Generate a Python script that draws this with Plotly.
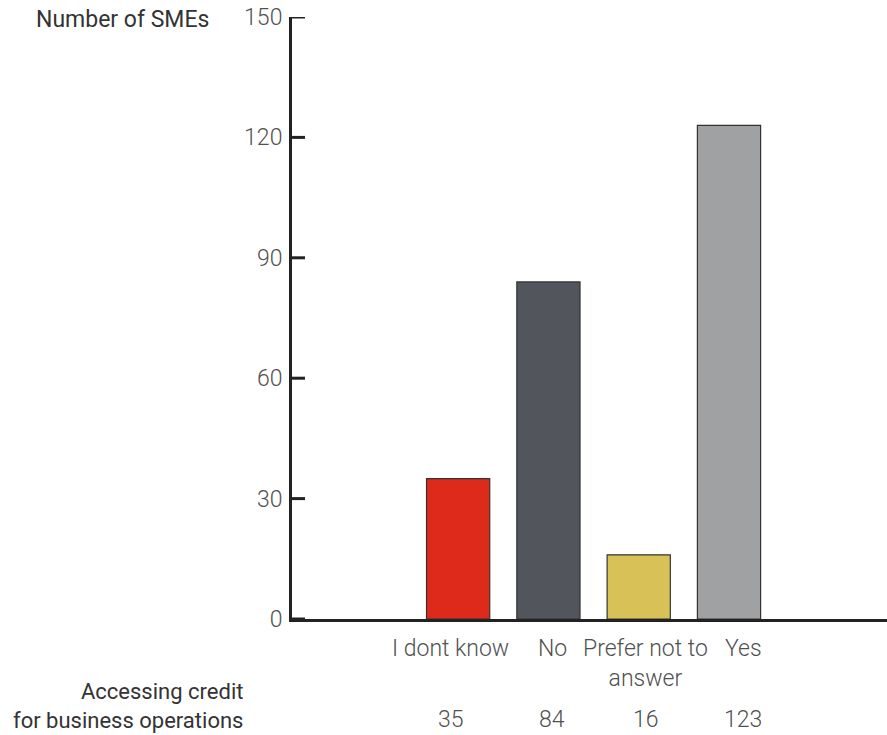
import plotly.graph_objects as go

# Survey responses: accessing credit for business operations
categories = ["I dont know", "No", "Prefer not to answer", "Yes"]
counts = [35, 84, 16, 123]
bar_colors = ["#DD2A1B", "#52555C", "#D8C257", "#A0A1A3"]
y_ticks = [0, 30, 60, 90, 120, 150]
row_title = "Accessing credit<br>for business operations"
axis_title = "Number of SMEs"

# column centres of the label/value table beneath the bars (category units)
label_cols = [-0.08, 1.04, 2.08, 3.16]

W, H = 887, 735
L, R, T, B = 292, 0, 17, 116
plot_w = W - L - R
plot_h = H - T - B
TICK_LEN = 13

LIGHT = dict(family="Roboto", size=23, color="#505050", weight=300)
REG = dict(family="Roboto", size=22, color="#333333", weight=400)


def py(pixel_y):
    """pixel row -> paper y"""
    return (H - B - pixel_y) / plot_h


fig = go.Figure(
    go.Bar(
        x=categories,
        y=counts,
        marker=dict(color=bar_colors, line=dict(color="#333333", width=1.2)),
        width=0.7,
        hoverinfo="x+y",
    )
)

annotations = []
for cat, val, cx in zip(categories, counts, label_cols):
    annotations.append(dict(
        x=cx, y=py(647), xref="x", yref="paper",
        text=cat.replace("not to ", "not to<br>"), showarrow=False,
        xanchor="center", yanchor="top", yshift=14,
        font=LIGHT, align="center",
    ))
    annotations.append(dict(
        x=cx, y=py(719), xref="x", yref="paper",
        text=str(val), showarrow=False,
        xanchor="center", yanchor="middle", font=LIGHT,
    ))

annotations.append(dict(
    x=245, y=py(706), xref="paper", yref="paper", text=row_title,
    showarrow=False, xanchor="right", yanchor="middle", align="right",
    font=REG,
))
annotations.append(dict(
    x=211, y=py(20), xref="paper", yref="paper", text=axis_title,
    showarrow=False, xanchor="right", yanchor="middle",
    font=dict(REG, size=23),
))
# convert pixel x of the left-side texts into paper units
for a in annotations[-2:]:
    a["x"] = (a["x"] - L) / plot_w

# inward tick marks on the value axis
shapes = [
    dict(type="line", xref="paper", yref="y", x0=0, x1=TICK_LEN / plot_w,
         y0=v, y1=v, line=dict(color="#222222", width=3), layer="above")
    for v in y_ticks
]

fig.update_layout(
    width=W, height=H,
    margin=dict(l=L, r=R, t=T, b=B, pad=0),
    plot_bgcolor="white", paper_bgcolor="white",
    showlegend=False,
    annotations=annotations,
    shapes=shapes,
    xaxis=dict(
        type="category",
        categoryorder="array", categoryarray=categories,
        range=[-1.84, 4.75],
        showticklabels=False, ticks="",
        showline=True, linecolor="#222222", linewidth=3,
        showgrid=False, zeroline=False, fixedrange=True,
    ),
    yaxis=dict(
        range=[0, 150],
        tickvals=y_ticks,
        ticks="inside", ticklen=TICK_LEN, tickwidth=2, tickcolor="#222222",
        tickfont=LIGHT,
        ticklabelstandoff=2,
        showline=True, linecolor="#222222", linewidth=3,
        showgrid=False, zeroline=False, fixedrange=True,
    ),
)

fig.write_html("out.html")
